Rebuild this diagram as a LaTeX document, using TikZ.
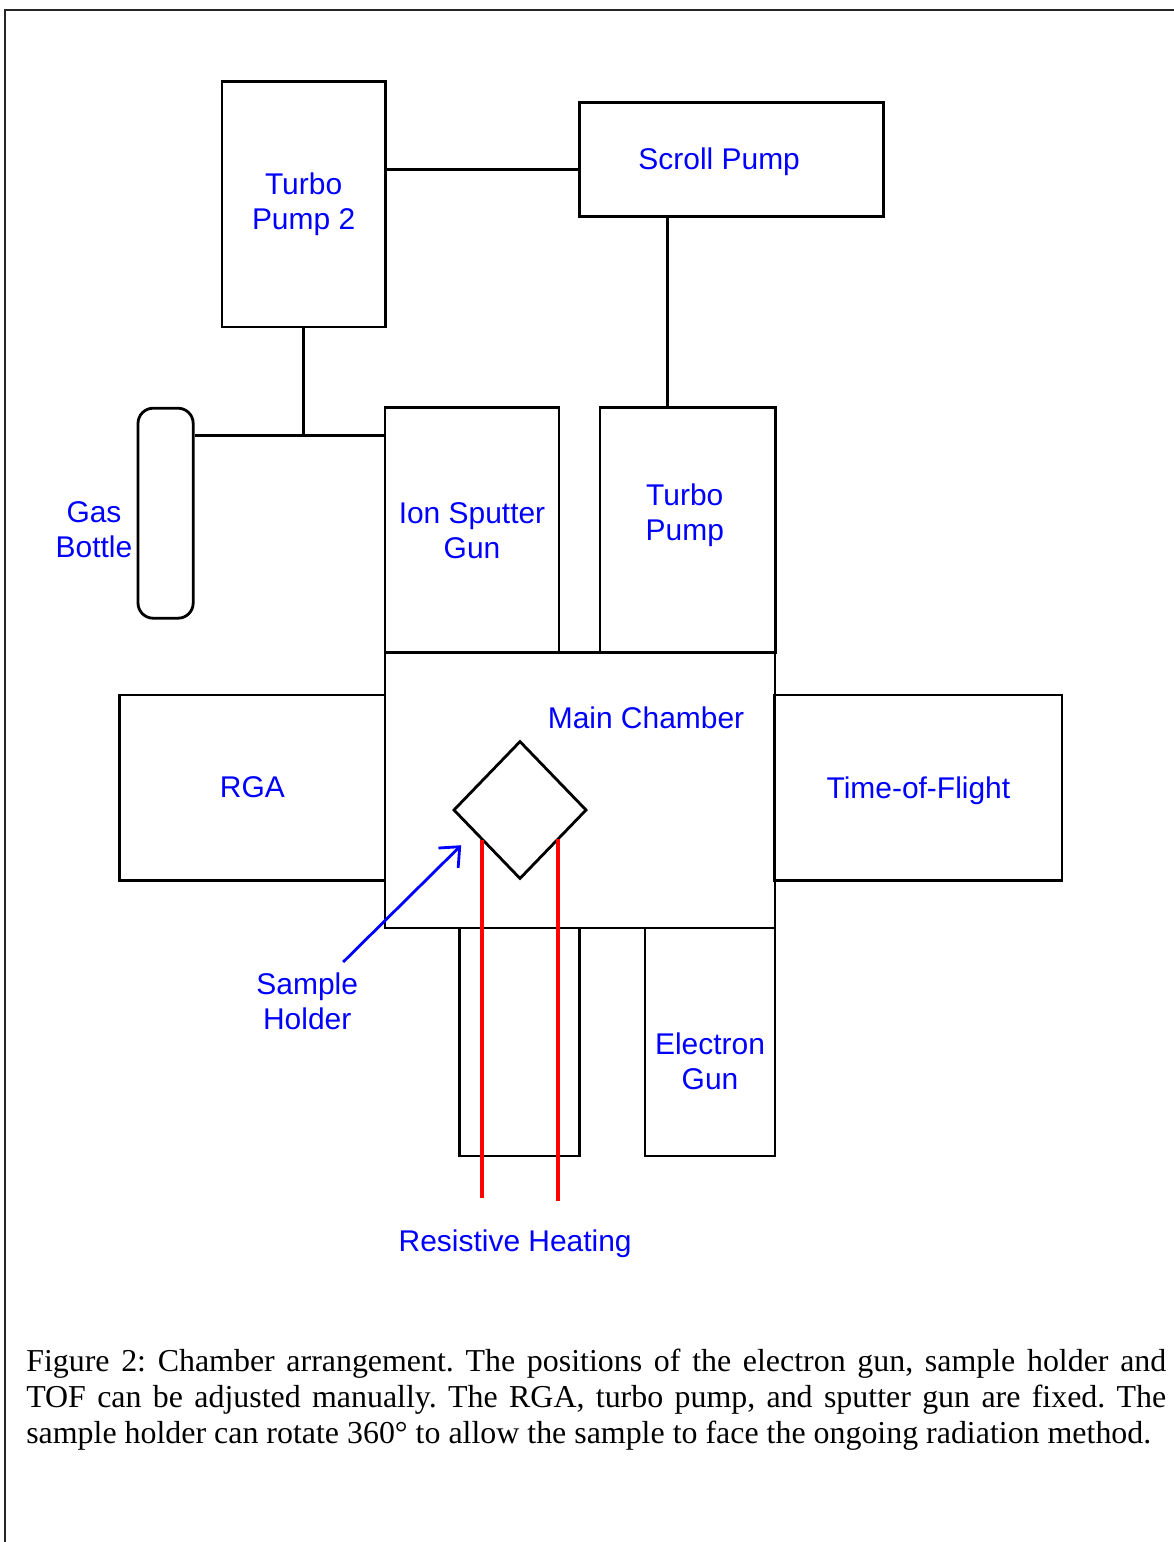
\documentclass[tikz,border=0pt]{standalone}
\usepackage{fontspec}
\setmainfont{Liberation Serif}
\newfontfamily\labelfont{Liberation Sans}
\usetikzlibrary{shapes.geometric, arrows.meta, positioning, calc}

\begin{document}
\begin{tikzpicture}[
    box/.style={draw, rectangle, line width=2pt, inner sep=0pt},
    lbl/.style={text=blue, align=center, inner sep=0pt, font=\labelfont\fontsize{21.3}{24.9}\selectfont},
    pipe/.style={line width=2pt},
    heat/.style={red, line width=2.4pt},
    pointer/.style={blue, line width=2pt, -{Straight Barb[length=0.4cm, width=0.7cm]}}
]
    \useasboundingbox (0,0) rectangle (29.35,-38.55);
    \draw[line width=1.2pt, black!85] (0.125,-38.55) -- (0.125,-0.25) -- (29.35,-0.25);

    % pumps
    \node[box, lbl, minimum width=4.08cm, minimum height=6.13cm] (tp2) at (7.59,-5.11) {Turbo\\Pump 2};
    \node[box, minimum width=7.6cm, minimum height=2.85cm] (scroll) at (18.28,-3.98) {};
    \node[lbl] at (17.98,-4.05) {Scroll Pump};
    \node[box, minimum width=1.38cm, minimum height=5.25cm, rounded corners=0.38cm] (bottle) at (4.14,-12.83) {};
    \node[lbl] at (2.35,-13.25) {Gas\\Bottle};
    \node[box, lbl, minimum width=4.35cm, minimum height=6.13cm] (isg) at (11.8,-13.26) {Ion Sputter\\Gun};
    \node[box, minimum width=4.38cm, minimum height=6.13cm] (tp) at (17.19,-13.26) {};
    \node[lbl] at (17.12,-12.88) {Turbo\\Pump};

    % chamber and ports
    \node[box, minimum width=9.75cm, minimum height=6.88cm] (main) at (14.5,-19.76) {};
    \node[lbl] at (16.15,-17.95) {Main Chamber};
    \node[box, lbl, minimum width=6.63cm, minimum height=4.63cm] (rga) at (6.31,-19.69) {RGA};
    \node[box, minimum width=7.18cm, minimum height=4.63cm] (tof) at (22.96,-19.69) {};
    \node[lbl] at (22.96,-19.77) {Time-of-Flight};
    \node[draw, diamond, line width=2pt, inner sep=0pt, minimum width=3.33cm, minimum height=3.45cm] (holder) at (13.0,-20.25) {};
    \node[box, minimum width=3.0cm, minimum height=5.7cm] (rod) at (12.98,-26.05) {};
    \node[box, minimum width=3.25cm, minimum height=5.7cm] (egun) at (17.75,-26.05) {};
    \node[lbl] at (17.75,-26.53) {Electron\\Gun};

    % lines between parts
    \draw[pipe] (tp2.east |- 0,-4.23) -- (scroll.west |- 0,-4.23);
    \draw[pipe] (scroll.south -| 16.68,0) -- (tp.north -| 16.68,0);
    \draw[pipe] (tp2.south) -- (tp2.south |- 0,-10.88);
    \draw[pipe] (bottle.east |- 0,-10.88) -- (isg.west |- 0,-10.88);

    % heating wires
    \coordinate (w1top) at (12.05,-20.99);
    \coordinate (w1end) at (12.05,-29.95);
    \coordinate (w2top) at (13.95,-20.98);
    \coordinate (w2end) at (13.95,-30.03);
    \draw[heat] (w1top) -- (w1end);
    \draw[heat] (w2top) -- (w2end);
    \node[lbl] (heating) at (12.88,-31.1) {Resistive Heating};

    % sample holder pointer
    \node[lbl] (shlabel) at (7.68,-25.03) {Sample\\Holder};
    \coordinate (shtail) at (8.58,-24.05);
    \coordinate (shtip) at (11.53,-21.13);
    \draw[pointer] (shtail) -- (shtip);

    \node[anchor=north west, text width=28.5cm, align=justify, inner sep=0pt, font=\frenchspacing\fontsize{22.7}{25.6}\selectfont] (caption) at (0.65,-33.72)
        {Figure 2: Chamber arrangement. The positions of the electron gun, sample holder and\linebreak TOF can be adjusted manually. The RGA, turbo pump, and sputter gun are fixed. The\linebreak sample holder can rotate 360° to allow the sample to face the ongoing radiation method.};
\end{tikzpicture}
\end{document}
